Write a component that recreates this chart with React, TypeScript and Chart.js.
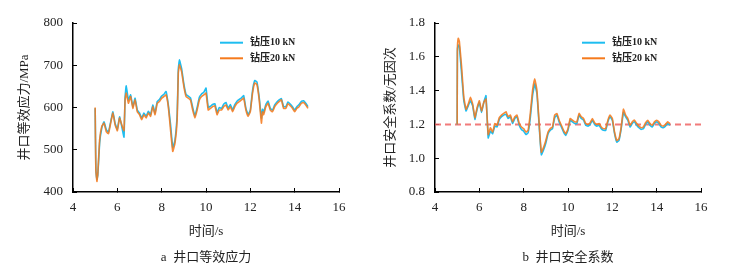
import React, { useEffect, useRef } from "react";
import { Chart, registerables } from "chart.js";

Chart.register(...registerables);

// ---------- data ----------
const stressTime = [
  5.0, 5.03, 5.08, 5.12, 5.2, 5.3, 5.4, 5.5, 5.6, 5.7, 5.8, 5.9, 6.0, 6.1, 6.2, 6.3, 6.35,
  6.4, 6.5, 6.6, 6.7, 6.8, 6.9, 7.0, 7.1, 7.2, 7.3, 7.4, 7.5, 7.6, 7.7, 7.8, 7.9,
  8.0, 8.1, 8.2, 8.3, 8.4, 8.5, 8.6, 8.7, 8.75, 8.8, 8.9,
  9.0, 9.1, 9.2, 9.3, 9.4, 9.5, 9.6, 9.7, 9.8, 9.9,
  10.0, 10.1, 10.2, 10.3, 10.4, 10.5, 10.6, 10.7, 10.8, 10.9,
  11.0, 11.1, 11.2, 11.3, 11.4, 11.5, 11.6, 11.7, 11.8, 11.9,
  12.0, 12.1, 12.2, 12.3, 12.4, 12.5, 12.55, 12.6, 12.7, 12.8, 12.9,
  13.0, 13.1, 13.2, 13.3, 13.4, 13.5, 13.6, 13.7, 13.8, 13.9,
  14.0, 14.1, 14.2, 14.3, 14.4, 14.5, 14.6,
];
const stress10kN = [
  598, 460, 430, 440, 515, 552, 566, 548, 542, 566, 590, 562, 548, 578, 555, 530, 625,
  651, 618, 630, 602, 622, 594, 587, 575, 587, 579, 591, 583, 606, 587, 614, 619,
  627, 631, 638, 606, 560, 505, 522, 585, 690, 713, 692,
  656, 631, 627, 623, 600, 580, 600, 624, 632, 636,
  646, 600, 603, 607, 609, 588, 600, 598, 608, 612,
  598, 607, 594, 607, 615, 619, 623, 628, 598, 583,
  594, 640, 664, 660, 624, 575, 596, 588, 607, 615, 598,
  594, 606, 613, 618, 621, 602, 602, 613, 608, 602,
  594, 602, 607, 614, 616, 610, 602,
];
const stress20kN = [
  600, 452, 425, 444, 523, 556, 563, 543, 538, 563, 587, 559, 545, 575, 559, 545, 618,
  634, 610, 626, 598, 618, 590, 583, 571, 583, 575, 587, 579, 602, 583, 610, 614,
  622, 626, 630, 602, 547, 496, 515, 571, 681, 701, 685,
  650, 626, 622, 618, 594, 575, 594, 618, 626, 630,
  634, 594, 598, 602, 604, 583, 594, 594, 602, 606,
  594, 602, 590, 602, 610, 614, 618, 622, 594, 579,
  590, 634, 658, 654, 618, 563, 590, 583, 602, 610, 594,
  590, 602, 609, 614, 618, 598, 598, 609, 604, 598,
  590, 598, 602, 610, 612, 606, 598,
];

const safetyTime = [
  5.0, 5.01, 5.05, 5.1,
  5.2, 5.3, 5.4, 5.5, 5.6, 5.7, 5.8, 5.9, 6.0, 6.1, 6.2, 6.3,
  6.4, 6.5, 6.6, 6.7, 6.8, 6.9, 7.0, 7.1, 7.2, 7.3, 7.4, 7.5, 7.6, 7.7, 7.8, 7.9,
  8.0, 8.1, 8.2, 8.3, 8.4, 8.5, 8.6, 8.7, 8.75,
  8.8, 8.9, 9.0, 9.1, 9.2, 9.3, 9.4, 9.5, 9.6, 9.7, 9.8, 9.9,
  10.0, 10.1, 10.2, 10.3, 10.4, 10.5, 10.6, 10.7, 10.8, 10.9,
  11.0, 11.1, 11.2, 11.3, 11.4, 11.5, 11.6, 11.7, 11.8, 11.9,
  12.0, 12.1, 12.2, 12.3, 12.4, 12.5, 12.6, 12.7, 12.8, 12.9,
  13.0, 13.1, 13.2, 13.3, 13.4, 13.5, 13.6, 13.7, 13.8, 13.9,
  14.0, 14.1, 14.2, 14.3, 14.4, 14.5, 14.6,
];
const safety10kN = [
  1.2, 1.63, 1.67, 1.66,
  1.5, 1.34, 1.28, 1.31, 1.34, 1.31, 1.23, 1.29, 1.33, 1.27, 1.33, 1.37,
  1.12, 1.16, 1.145, 1.19, 1.185, 1.23, 1.245, 1.255, 1.26, 1.235, 1.245, 1.205, 1.235, 1.245, 1.195, 1.17,
  1.16, 1.14, 1.15, 1.24, 1.37, 1.44, 1.38, 1.19, 1.09,
  1.02, 1.05, 1.09, 1.145, 1.165, 1.175, 1.24, 1.255, 1.215, 1.185, 1.155, 1.135,
  1.165, 1.225, 1.215, 1.205, 1.205, 1.255, 1.235, 1.225, 1.195, 1.19,
  1.2, 1.225, 1.2, 1.19, 1.195, 1.175, 1.165, 1.165, 1.215, 1.245,
  1.225, 1.145, 1.095, 1.105, 1.175, 1.27, 1.245, 1.225, 1.185, 1.205,
  1.215, 1.195, 1.18, 1.17, 1.175, 1.2, 1.215, 1.195, 1.185, 1.205,
  1.215, 1.205, 1.185, 1.18, 1.19, 1.205, 1.195,
];
const safety20kN = [
  1.2, 1.64, 1.71, 1.69,
  1.54, 1.36, 1.29, 1.32, 1.36, 1.32, 1.24, 1.3, 1.34, 1.28, 1.33, 1.35,
  1.14, 1.18, 1.155, 1.205, 1.195, 1.24, 1.255, 1.265, 1.275, 1.245, 1.255, 1.215, 1.245, 1.255, 1.205, 1.185,
  1.175, 1.155, 1.165, 1.265, 1.4, 1.47, 1.4, 1.205, 1.105,
  1.035, 1.065, 1.105, 1.155, 1.175, 1.185, 1.255, 1.265, 1.225, 1.195, 1.165, 1.145,
  1.175, 1.235, 1.225, 1.215, 1.215, 1.265, 1.245, 1.235, 1.205, 1.2,
  1.21, 1.235, 1.21, 1.2, 1.205, 1.185, 1.175, 1.175, 1.225, 1.255,
  1.235, 1.155, 1.105, 1.115, 1.185, 1.29, 1.255, 1.235, 1.195, 1.215,
  1.225, 1.205, 1.19, 1.18, 1.185, 1.21, 1.225, 1.205, 1.195, 1.215,
  1.225, 1.215, 1.195, 1.19, 1.2, 1.215, 1.205,
];
const safetyLimit = 1.2;

const xTicksRange = [4, 16];
const stressRange = [400, 800];
const safetyRange = [0.8, 1.8];

const seriesLabels = ["钻压10 kN", "钻压20 kN"];

// ---------- styling ----------
const FONT = "'Liberation Serif', 'Noto Sans CJK SC', serif";
const TEXT = "#222";
const CYAN = "#1ebdf0";
const ORANGE = "rgba(245,122,28,0.88)";

const insideLegend = {
  id: "insideLegend",
  afterDatasetsDraw(chart: any, _args: any, opts: any) {
    const { ctx, chartArea } = chart;
    const items = chart.data.datasets.filter((d: any) => d.showInLegend);
    items.forEach((d: any, i: number) => {
      const y = opts.y0 + i * opts.dy;
      ctx.save();
      ctx.strokeStyle = d.legendColor;
      ctx.lineWidth = 2;
      ctx.beginPath();
      ctx.moveTo(chartArea.left + opts.dx, y);
      ctx.lineTo(chartArea.left + opts.dx + 23, y);
      ctx.stroke();
      ctx.fillStyle = TEXT;
      ctx.font = `bold 10px ${FONT}`;
      ctx.textBaseline = "middle";
      ctx.textAlign = "left";
      ctx.fillText(d.label, chartArea.left + opts.dx + 30, y);
      ctx.restore();
    });
  },
};

type PanelProps = {
  left: number;
  yAxisWidth: number;
  rightPad: number;
  yTitlePad: number;
  yTitle: string;
  caption: string;
  time: number[];
  a: number[];
  b: number[];
  yRange: number[];
  yStep: number;
  decimals: number;
  limit?: number;
};

function Panel(p: PanelProps) {
  const ref = useRef<HTMLCanvasElement | null>(null);
  useEffect(() => {
    if (!ref.current) return;
    const toPts = (vals: number[]) => vals.map((v, i) => ({ x: p.time[i], y: v }));
    const datasets: any[] = [
      {
        label: seriesLabels[0],
        data: toPts(p.a),
        borderColor: CYAN,
        legendColor: CYAN,
        showInLegend: true,
        borderWidth: 1.6,
        pointRadius: 0,
        tension: 0.1,
        order: 1,
      },
      {
        label: seriesLabels[1],
        data: toPts(p.b),
        borderColor: ORANGE,
        legendColor: "#f57a1c",
        showInLegend: true,
        borderWidth: 1.6,
        pointRadius: 0,
        tension: 0.1,
        order: 0,
      },
    ];
    if (p.limit !== undefined) {
      datasets.push({
        label: "limit",
        data: [
          { x: xTicksRange[0], y: p.limit },
          { x: xTicksRange[1], y: p.limit },
        ],
        borderColor: "rgba(238,100,100,0.85)",
        borderDash: [6, 4],
        borderWidth: 2,
        pointRadius: 0,
        order: 2,
      });
    }
    const chart = new Chart(ref.current, {
      type: "line",
      data: { datasets },
      plugins: [insideLegend],
      options: {
        animation: false,
        responsive: false,
        devicePixelRatio: 1,
        layout: { padding: { left: 0, top: 23, right: p.rightPad, bottom: 29 } },
        plugins: {
          legend: { display: false },
          tooltip: { enabled: false },
          insideLegend: { y0: 42.7, dy: 15.6, dx: 147 },
        } as any,
        scales: {
          x: {
            type: "linear",
            min: xTicksRange[0],
            max: xTicksRange[1],
            ticks: { stepSize: 2, padding: 12, color: TEXT, font: { family: FONT, size: 13 } },
            grid: { display: true, drawOnChartArea: false, drawTicks: true, tickLength: -4, color: "#000", lineWidth: 1 },
            border: { display: true, color: "#000", width: 1.5 },
            title: { display: true, text: "时间/s", color: TEXT, font: { family: FONT, size: 13 }, padding: 0 },
            afterFit: (s: any) => {
              s.height = 47;
            },
          },
          y: {
            type: "linear",
            min: p.yRange[0],
            max: p.yRange[1],
            ticks: {
              stepSize: p.yStep,
              padding: 14,
              color: TEXT,
              font: { family: FONT, size: 13 },
              callback: (v: any) => Number(v).toFixed(p.decimals),
            },
            grid: { display: true, drawOnChartArea: false, drawTicks: true, tickLength: -4, color: "#000", lineWidth: 1 },
            border: { display: true, color: "#000", width: 1.5 },
            title: {
              display: true,
              text: p.yTitle,
              color: TEXT,
              font: { family: FONT, size: 13 },
              padding: { top: p.yTitlePad, bottom: 0 },
            },
            afterFit: (s: any) => {
              s.width = p.yAxisWidth;
            },
          },
        },
      } as any,
    });
    return () => chart.destroy();
  }, []);
  return (
    <div style={{ position: "absolute", left: p.left, top: 0, width: 376, height: 268 }}>
      <canvas ref={ref} width={376} height={268} style={{ width: 376, height: 268, display: "block" }} />
      <div
        style={{
          position: "absolute",
          left: p.yAxisWidth,
          width: 266,
          top: 248,
          textAlign: "center",
          fontFamily: FONT,
          fontSize: 13,
          lineHeight: "18px",
          color: TEXT,
          whiteSpace: "pre",
        }}
      >
        {p.caption}
      </div>
    </div>
  );
}

export default function App() {
  return (
    <div style={{ position: "fixed", left: 0, top: 0, width: 753, height: 268, background: "#fff", overflow: "hidden" }}>
      <Panel
        left={0}
        yAxisWidth={73}
        rightPad={37}
        yTitlePad={17}
        yTitle="井口等效应力/MPa"
        caption={"a  井口等效应力"}
        time={stressTime}
        a={stress10kN}
        b={stress20kN}
        yRange={stressRange}
        yStep={100}
        decimals={0}
      />
      <Panel
        left={377}
        yAxisWidth={58}
        rightPad={52}
        yTitlePad={6}
        yTitle="井口安全系数/无因次"
        caption={"b  井口安全系数"}
        time={safetyTime}
        a={safety10kN}
        b={safety20kN}
        yRange={safetyRange}
        yStep={0.2}
        decimals={1}
        limit={safetyLimit}
      />
    </div>
  );
}
